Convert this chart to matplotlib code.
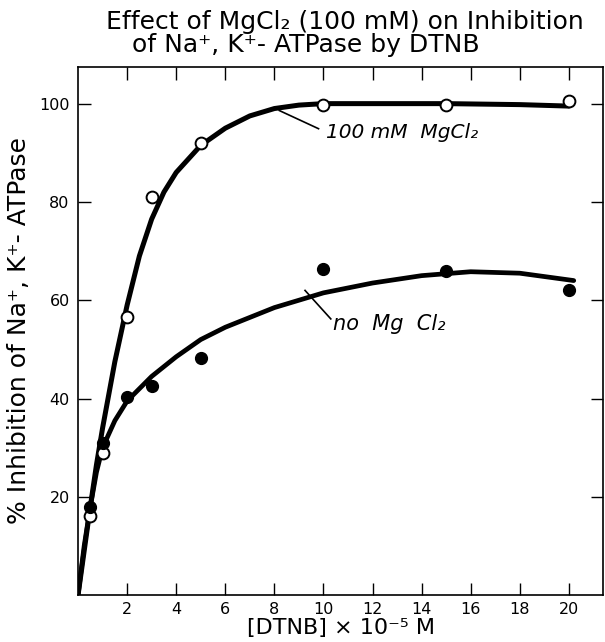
import numpy as np
import matplotlib.pyplot as plt

# measured points (DTNB x 1e-5 M, % inhibition)
dtnb_mg = [0.5, 1, 2, 3, 5, 10, 15, 20]
inhib_mg = [16, 29, 56.5, 81, 92, 99.7, 99.8, 100.6]

dtnb_nomg = [0.5, 1, 2, 3, 5, 10, 15, 20]
inhib_nomg = [18, 31, 40.3, 42.5, 48.3, 66.3, 66, 62]

# hand-drawn fit curves
curve_mg_x = [0, 0.25, 0.5, 0.75, 1, 1.5, 2, 2.5, 3, 3.5, 4, 5, 6, 7, 8, 9, 10, 12, 15, 18, 20]
curve_mg_y = [0, 9, 18, 26.5, 34, 47.5, 59, 69, 76.5, 82, 86, 91.5, 95, 97.5, 99, 99.7, 100, 100, 100, 99.8, 99.5]

curve_nomg_x = [0, 0.25, 0.5, 0.75, 1, 1.5, 2, 3, 4, 5, 6, 8, 10, 12, 14, 16, 18, 20.2]
curve_nomg_y = [0, 10, 18, 25, 30, 35.5, 39.5, 44.5, 48.5, 52, 54.5, 58.5, 61.5, 63.5, 65, 65.8, 65.5, 64]

xticks = [2, 4, 6, 8, 10, 12, 14, 16, 18, 20]
yticks = [20, 40, 60, 80, 100]

fig = plt.figure(figsize=(6.05, 6.42), dpi=100)
ax = fig.add_axes([0.129, 0.073, 0.868, 0.823])

ax.plot(curve_mg_x, curve_mg_y, color='black', lw=3.6, solid_capstyle='round', zorder=2)
ax.plot(curve_nomg_x, curve_nomg_y, color='black', lw=3.4, solid_capstyle='round', zorder=2)

ax.plot(dtnb_mg, inhib_mg, 'o', ms=8.5, mfc='white', mec='black', mew=1.4, zorder=3)
ax.plot(dtnb_nomg, inhib_nomg, 'o', ms=8.5, mfc='black', mec='black', zorder=3)

# curve labels with leader lines
ax.plot([8.2, 9.8], [98.6, 94.9], color='black', lw=1.2)
ax.text(10.1, 94.2, '100 mM  MgCl\u2082', fontsize=14.5, style='italic', va='center', ha='left')
ax.plot([9.25, 10.3], [62, 56.2], color='black', lw=1.2)
ax.text(10.4, 55.2, 'no  Mg  Cl\u2082', fontsize=15, style='italic', va='center', ha='left')

ax.set_xlim(0, 21.4)
ax.set_ylim(0, 107.5)
ax.set_xticks(xticks)
ax.set_yticks(yticks)
ax.tick_params(direction='in', length=9, width=1, labelsize=11.5, top=True, right=True)
ax.tick_params(axis='x', pad=5)
ax.tick_params(axis='y', pad=6)
for s in ax.spines.values():
    s.set_linewidth(1.2)

ax.set_xlabel('[DTNB] \u00d7 10\u207b\u2075 M', fontsize=16, labelpad=1)
ax.set_ylabel('% Inhibition of Na\u207a, K\u207a- ATPase', fontsize=18, labelpad=6)

fig.text(0.57, 0.985, 'Effect of MgCl\u2082 (100 mM) on Inhibition',
         fontsize=18, ha='center', va='top')
fig.text(0.505, 0.948, 'of Na\u207a, K\u207a- ATPase by DTNB',
         fontsize=18, ha='center', va='top')

fig.savefig('out.png', dpi=100)
